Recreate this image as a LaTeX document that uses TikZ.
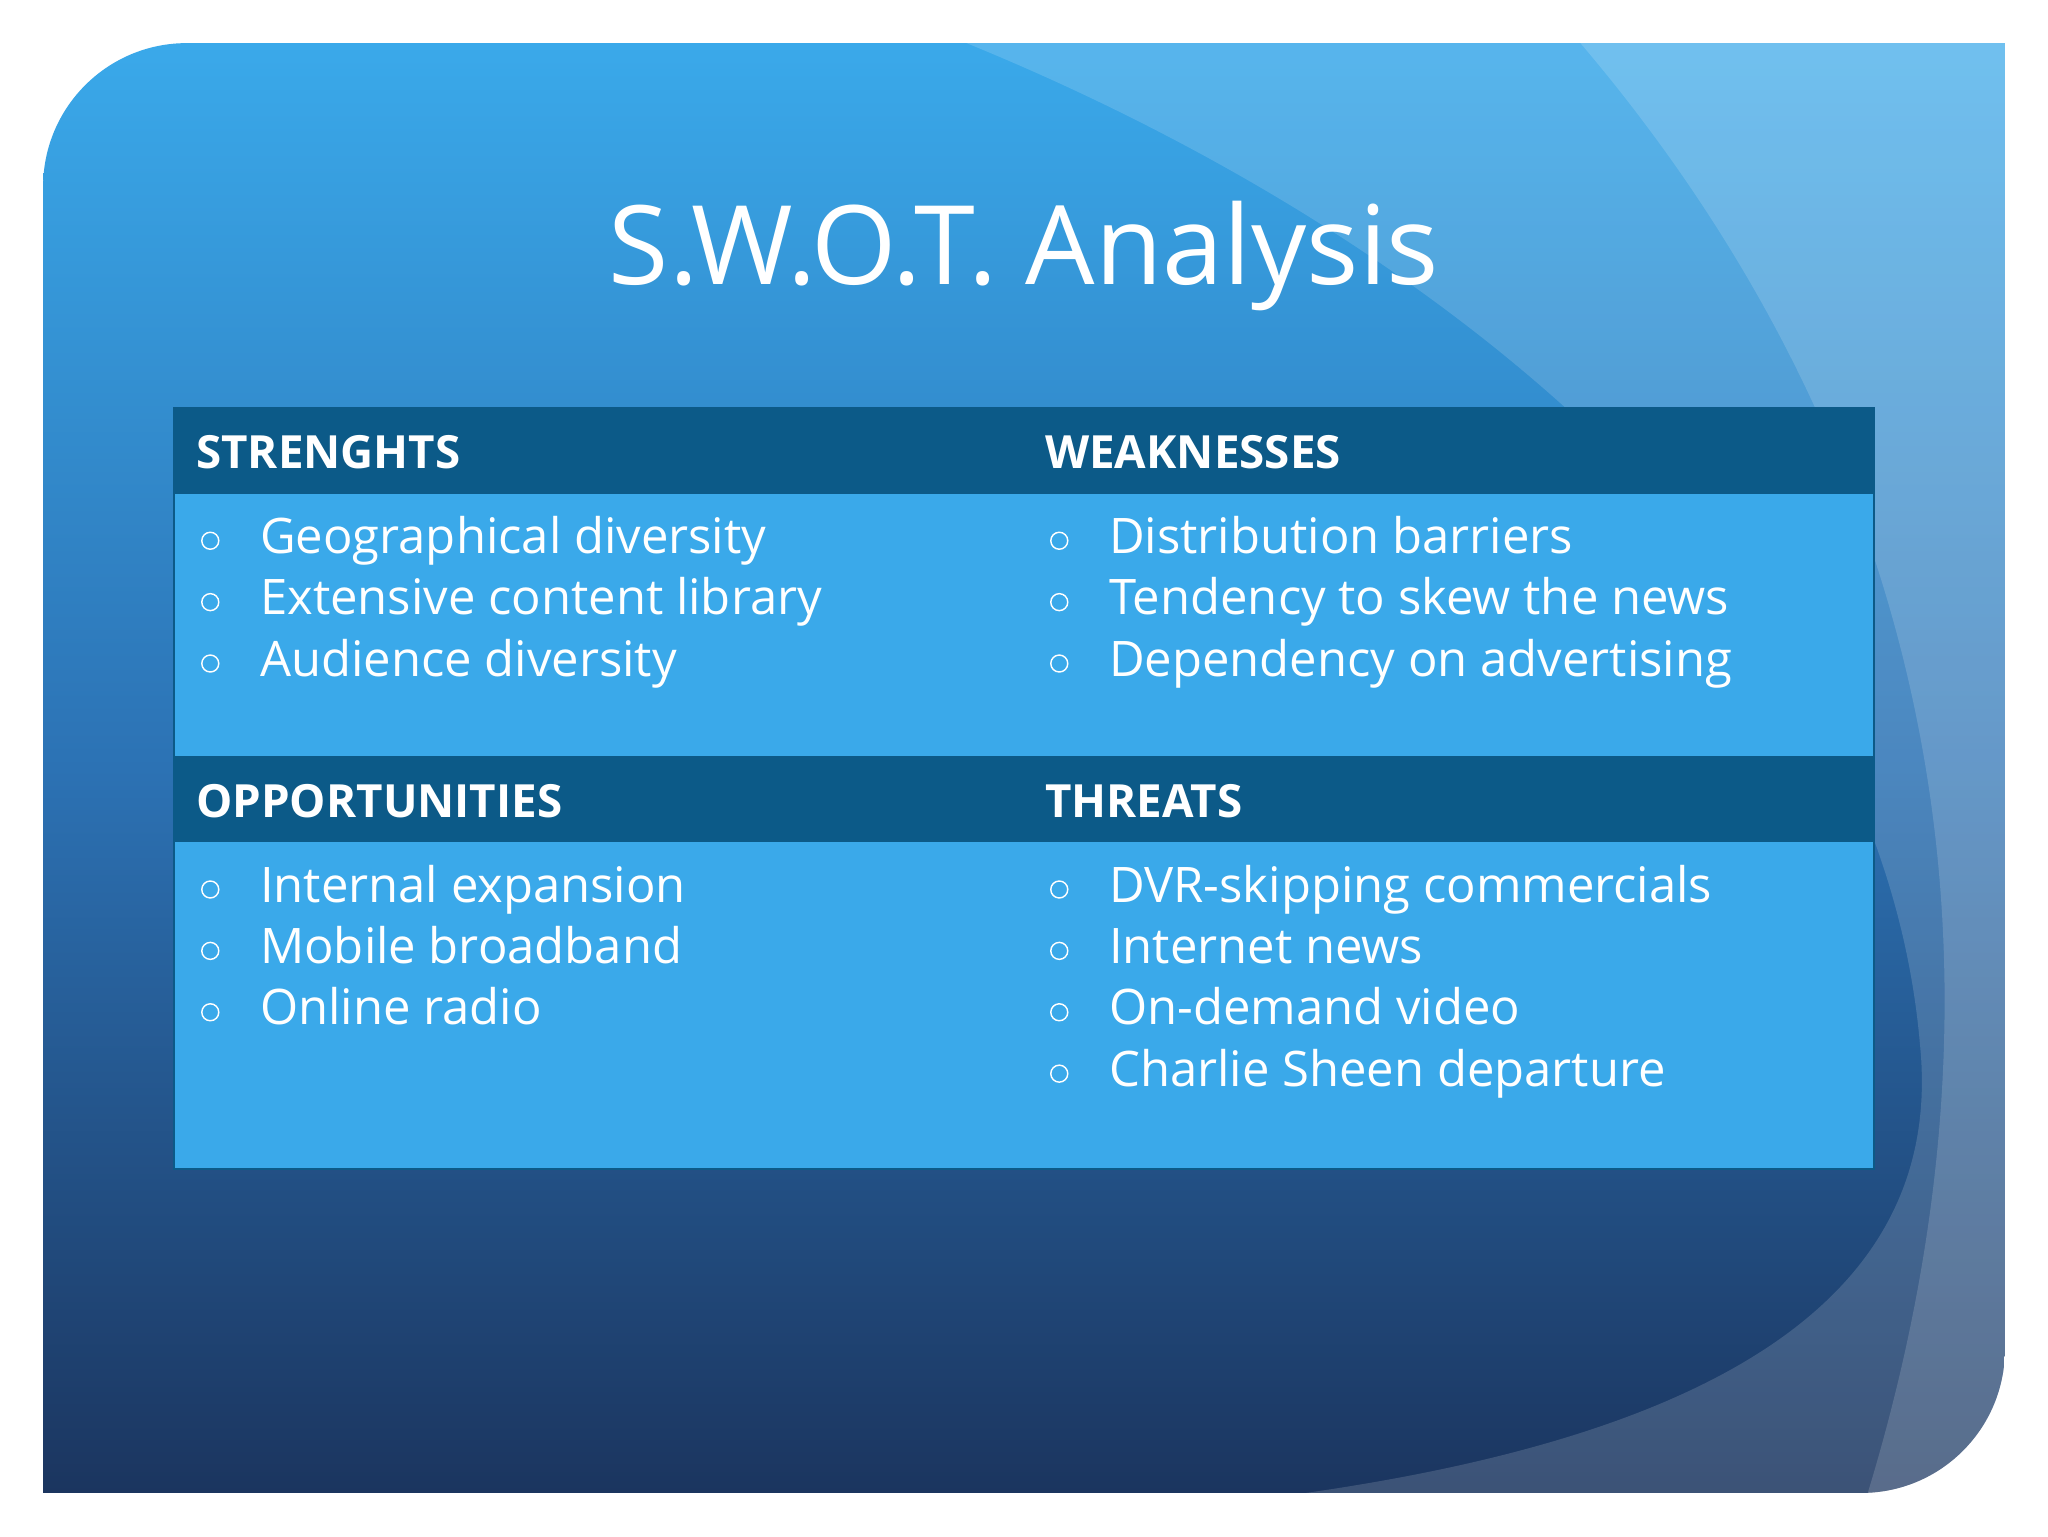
\documentclass[tikz,border=0pt]{standalone}
\usepackage{fontspec}
\setmainfont{Open Sans}
\begin{document}
\begin{tikzpicture}[x=1pt,y=-1pt,
  item/.style={anchor=mid west,inner sep=0pt,text=white,font=\fontsize{37.5}{42}\selectfont},
  bul/.style={circle,draw=white,line width=1.1pt,minimum size=13pt,inner sep=0pt},
  head/.style={anchor=mid west,inner sep=0pt,text=white,font=\bfseries\fontsize{35}{40}\selectfont}]
\definecolor{topb}{HTML}{3AA9EA}
\definecolor{midb}{HTML}{2C72B4}
\definecolor{botb}{HTML}{1B355F}
\definecolor{hdr}{HTML}{0C5A88}
\definecolor{cell}{HTML}{3AA9EA}
\useasboundingbox (0,0) rectangle (1568,1176);
\fill[white] (0,0) rectangle (1568,1176);
\path[save path=\slide] (33,143) arc[start angle=180,end angle=270,radius=110] -- (1535,33) -- (1535,1033) arc[start angle=0,end angle=90,radius=110] -- (33,1143) -- cycle;
\begin{scope}
\clip[use path=\slide];
\shade[top color=topb,bottom color=botb,middle color=midb] (33,33) rectangle (1535,1143);
\fill[white,opacity=0.15] (740,33) .. controls (1100,180) and (1440,450) .. (1470,800) .. controls (1490,1000) and (1300,1100) .. (1000,1143) -- (1535,1143) -- (1535,33) -- cycle;
\fill[white,opacity=0.15] (1210,33) .. controls (1420,280) and (1580,650) .. (1430,1143) -- (1535,1143) -- (1535,33) -- cycle;
\end{scope}
\node[text=white,font=\fontsize{84}{90}\selectfont] (title) at (784,196) {S.W.O.T. Analysis};
\fill[cell] (133,312) rectangle (1435,895);
\fill[hdr] (133,312) rectangle (1435,378);
\fill[hdr] (133,579) rectangle (1435,645);
\draw[hdr,line width=1.5pt] (133,312) rectangle (1435,895);
\node[head] (s) at (150,356) {STRENGHTS};
\node[head] (w) at (800,356) {WEAKNESSES};
\node[head] (o) at (150,623) {OPPORTUNITIES};
\node[head] (t) at (800,623) {THREATS};
\foreach \y/\t [count=\i] in {412/Geographical diversity,459/Extensive content library,506/Audience diversity}{
  \node[bul] (sb\i) at (161,\y+2) {}; \node[item] (si\i) at (199,\y+9) {\t};}
\foreach \y/\t [count=\i] in {412/Distribution barriers,459/Tendency to skew the news,506/Dependency on advertising}{
  \node[bul] (wb\i) at (811,\y+2) {}; \node[item] (wi\i) at (849,\y+9) {\t};}
\foreach \y/\t [count=\i] in {679/Internal expansion,726/Mobile broadband,773/Online radio}{
  \node[bul] (ob\i) at (161,\y+2) {}; \node[item] (oi\i) at (199,\y+9) {\t};}
\foreach \y/\t [count=\i] in {679/DVR-skipping commercials,726/Internet news,773/On-demand video,820/Charlie Sheen departure}{
  \node[bul] (tb\i) at (811,\y+2) {}; \node[item] (ti\i) at (849,\y+9) {\t};}
\end{tikzpicture}
\end{document}
